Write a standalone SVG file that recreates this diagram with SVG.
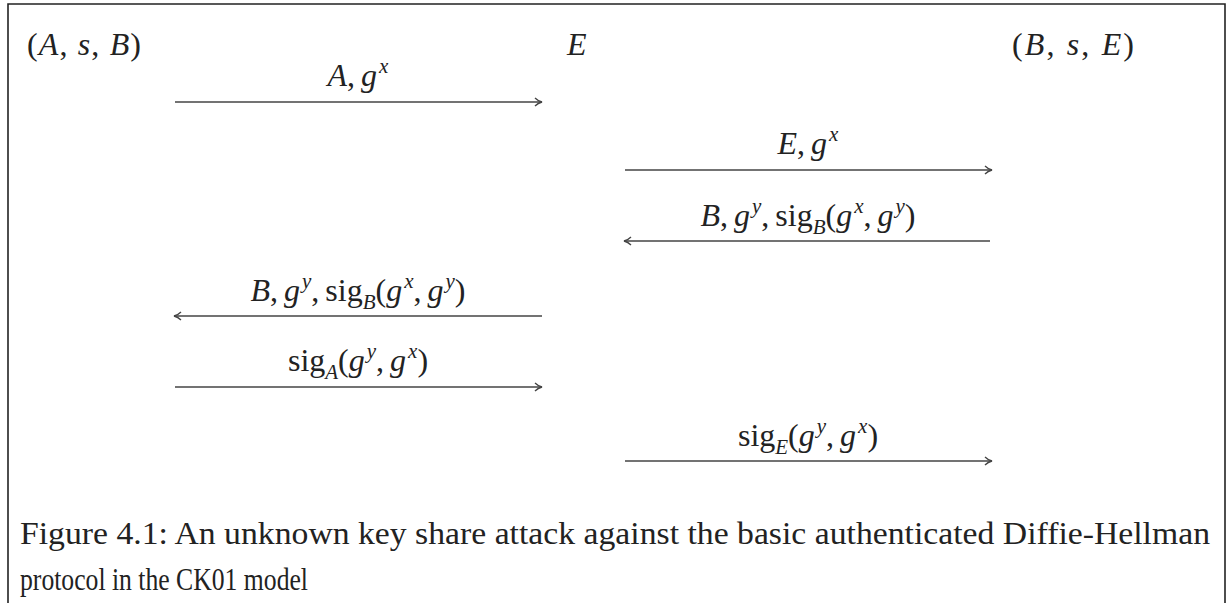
<svg xmlns="http://www.w3.org/2000/svg" width="1231" height="603" viewBox="0 0 1231 603">
<style>
.m{font-family:"Liberation Serif","DejaVu Serif",serif;font-size:32px;fill:#222}
.i{font-style:italic}
.cap{font-family:"Liberation Serif","DejaVu Serif",serif;font-size:31px;fill:#222}
.ar{stroke:#444;stroke-width:1.6;fill:none}
.sup{font-size:21px}
</style>
<defs>
<marker id="ah" viewBox="0 0 10 10" refX="9" refY="5" markerWidth="10" markerHeight="10" markerUnits="userSpaceOnUse" orient="auto">
<path d="M2,1 Q5,4 9,5 Q5,6 2,9" fill="none" stroke="#444" stroke-width="1.3"/>
</marker>
</defs>
<rect width="1231" height="603" fill="#fff"/>
<path d="M8,603 V4 H1225 V603" fill="none" stroke="#222" stroke-width="1.6"/>
<g id="partyA"><text class="m" x="27" y="55" textLength="114" lengthAdjust="spacing">(<tspan class="i">A</tspan>, <tspan class="i">s</tspan>, <tspan class="i">B</tspan>)</text></g>
<g id="partyE"><text class="m i" x="567" y="55">E</text></g>
<g id="partyB"><text class="m" x="1012" y="55" textLength="122" lengthAdjust="spacing">(<tspan class="i">B</tspan>, <tspan class="i">s</tspan>, <tspan class="i">E</tspan>)</text></g>
<g id="connectors">
<line class="ar" x1="175" y1="102" x2="542" y2="102" marker-end="url(#ah)"/>
<line class="ar" x1="625" y1="170" x2="992" y2="170" marker-end="url(#ah)"/>
<line class="ar" x1="990" y1="241" x2="624" y2="241" marker-end="url(#ah)"/>
<line class="ar" x1="542" y1="316" x2="174" y2="316" marker-end="url(#ah)"/>
<line class="ar" x1="175" y1="387" x2="542" y2="387" marker-end="url(#ah)"/>
<line class="ar" x1="625" y1="461" x2="992" y2="461" marker-end="url(#ah)"/>
</g>
<g id="labels">
<text class="m" x="358" y="86" text-anchor="middle"><tspan class="i">A</tspan>,<tspan dx="6" class="i">g</tspan><tspan class="i sup" dx="2" dy="-13">x</tspan></text>
<text class="m" x="808" y="154" text-anchor="middle"><tspan class="i">E</tspan>,<tspan dx="6" class="i">g</tspan><tspan class="i sup" dx="2" dy="-13">x</tspan></text>
<text class="m" x="808" y="226" text-anchor="middle"><tspan class="i">B</tspan>,<tspan dx="6" class="i">g</tspan><tspan class="i sup" dx="2" dy="-13">y</tspan><tspan dy="13">,</tspan><tspan dx="6" dy="0">sig</tspan><tspan class="i sup" dy="8">B</tspan><tspan dy="-8">(</tspan><tspan class="i">g</tspan><tspan class="i sup" dx="2" dy="-13">x</tspan><tspan dy="13">,</tspan><tspan dx="6" class="i">g</tspan><tspan class="i sup" dx="2" dy="-13">y</tspan><tspan dy="13">)</tspan></text>
<text class="m" x="358" y="301" text-anchor="middle"><tspan class="i">B</tspan>,<tspan dx="6" class="i">g</tspan><tspan class="i sup" dx="2" dy="-13">y</tspan><tspan dy="13">,</tspan><tspan dx="6" dy="0">sig</tspan><tspan class="i sup" dy="8">B</tspan><tspan dy="-8">(</tspan><tspan class="i">g</tspan><tspan class="i sup" dx="2" dy="-13">x</tspan><tspan dy="13">,</tspan><tspan dx="6" class="i">g</tspan><tspan class="i sup" dx="2" dy="-13">y</tspan><tspan dy="13">)</tspan></text>
<text class="m" x="358" y="371" text-anchor="middle">sig<tspan class="i sup" dy="8">A</tspan><tspan dy="-8">(</tspan><tspan class="i">g</tspan><tspan class="i sup" dx="2" dy="-13">y</tspan><tspan dy="13">,</tspan><tspan dx="6" class="i">g</tspan><tspan class="i sup" dx="2" dy="-13">x</tspan><tspan dy="13">)</tspan></text>
<text class="m" x="808" y="446" text-anchor="middle">sig<tspan class="i sup" dy="8">E</tspan><tspan dy="-8">(</tspan><tspan class="i">g</tspan><tspan class="i sup" dx="2" dy="-13">y</tspan><tspan dy="13">,</tspan><tspan dx="6" class="i">g</tspan><tspan class="i sup" dx="2" dy="-13">x</tspan><tspan dy="13">)</tspan></text>
</g>
<g id="caption">
<text class="cap" x="20" y="544" textLength="1190" lengthAdjust="spacingAndGlyphs">Figure 4.1: An unknown key share attack against the basic authenticated Diffie-Hellman</text>
<text class="cap" x="20" y="590" textLength="288" lengthAdjust="spacingAndGlyphs">protocol in the CK01 model</text>
</g>
</svg>
